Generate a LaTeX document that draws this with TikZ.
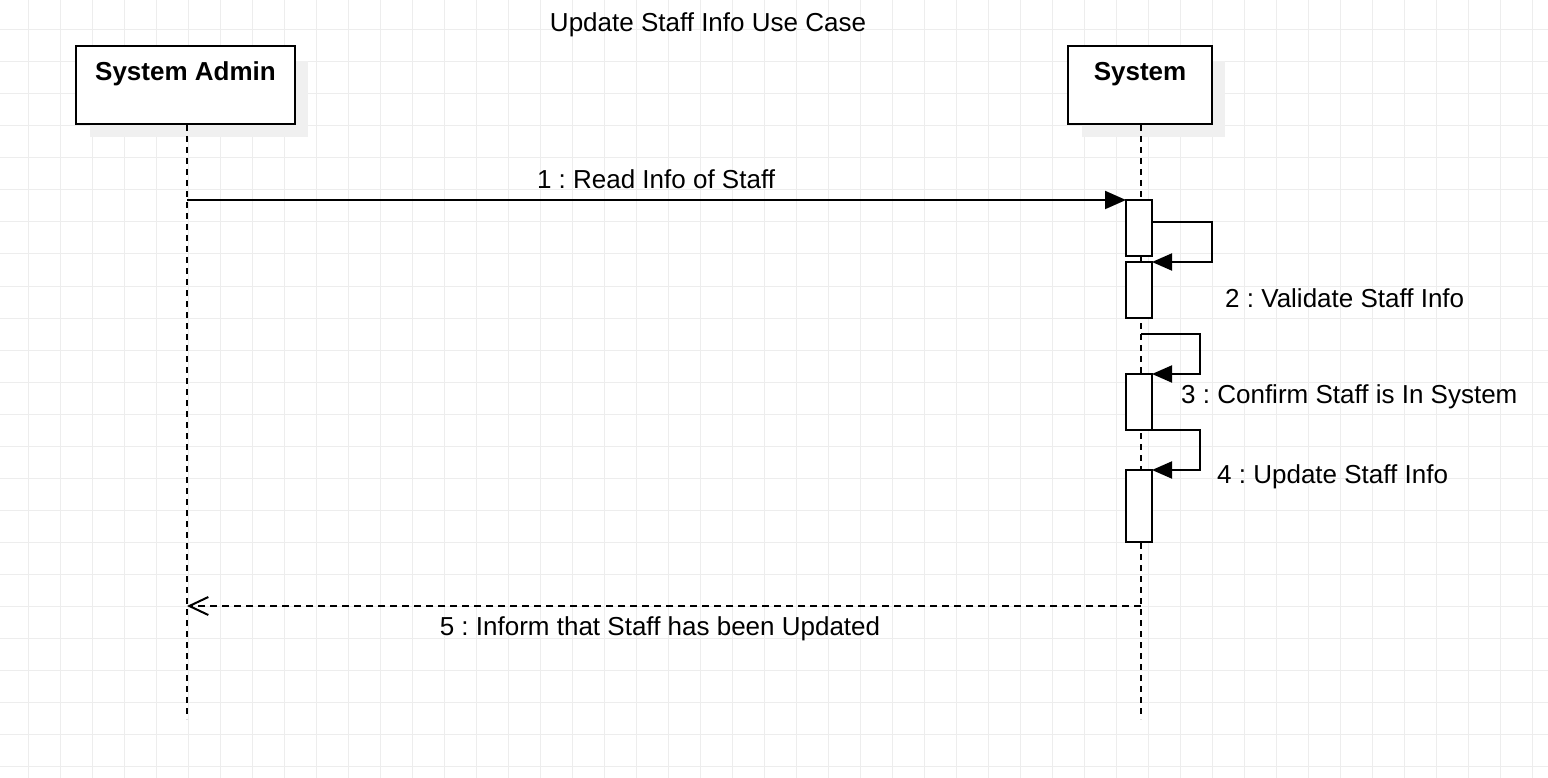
\documentclass[tikz,border=0pt]{standalone}
\usepackage{fontspec}
\setmainfont{Liberation Sans}
\usetikzlibrary{arrows.meta,calc}
\definecolor{gridc}{HTML}{EDEDED}
\definecolor{shadowc}{HTML}{F0F0F0}
\frenchspacing
\tikzset{
  gridline/.style={draw=gridc, line width=1pt},
  actorbox/.style={draw=black, fill=white, line width=2pt, inner sep=0pt, outer sep=0pt},
  actbox/.style={draw=black, fill=white, line width=2pt, inner sep=0pt, outer sep=0pt, minimum width=26pt},
  lifeline/.style={draw=black, line width=2pt, dash pattern=on 6pt off 5pt},
  msg/.style={draw=black, line width=2pt, -{Triangle[length=21pt,width=18pt]}},
  selfmsg/.style={draw=black, line width=2pt, -{Triangle[length=20pt,width=17pt]}},
  retmsg/.style={draw=black, line width=2pt, dash pattern=on 7pt off 5pt, -{Straight Barb[length=19pt,width=18pt,line width=2pt]}},
  txt/.style={font=\fontsize{26}{30}\selectfont, inner sep=0pt},
  btxt/.style={font=\bfseries\fontsize{26}{30}\selectfont, inner sep=0pt},
}
\begin{document}
\begin{tikzpicture}[x=1pt,y=-1pt]
\useasboundingbox (0,0) rectangle (1548,778);
\fill[white] (0,0) rectangle (1548,778);
% grid
\foreach \gx in {28,60,...,1548} \draw[gridline] (\gx,0) -- (\gx,778);
\foreach \gy in {30,62,...,778} \draw[gridline] (0,\gy) -- (1548,\gy);
% title
\node[txt, anchor=base] (title) at (708,32) {Update Staff Info Use Case};
% shadows
\fill[shadowc] (90,61) rectangle (308,137);
\fill[shadowc] (1082,61) rectangle (1225,137);
% actors
\node[actorbox, anchor=north west, minimum width=219pt, minimum height=78pt] (admin) at (76,46) {};
\node[btxt, anchor=base] (adminlbl) at (185.5,81) {System Admin};
\node[actorbox, anchor=north west, minimum width=144pt, minimum height=78pt] (sys) at (1068,46) {};
\node[btxt, anchor=base] (syslbl) at (1140,81) {System};
% lifelines
\coordinate (admintop) at (187,125);
\coordinate (adminbot) at (187,719);
\coordinate (systop) at (1141,125);
\coordinate (sysbot) at (1141,719);
\draw[lifeline] (admintop) -- (adminbot);
\draw[lifeline] (systop) -- (sysbot);
% activations
\node[actbox, anchor=north, minimum height=56pt] (a1) at (1139,200) {};
\node[actbox, anchor=north, minimum height=56pt] (a2) at (1139,262) {};
\node[actbox, anchor=north, minimum height=56pt] (a3) at (1139,374) {};
\node[actbox, anchor=north, minimum height=72pt] (a4) at (1139,470) {};
% message 1
\coordinate (m1s) at (187,200);
\draw[msg] (m1s) -- (a1.north west);
\node[txt, anchor=base] (l1) at (656,189) {1 : Read Info of Staff};
% message 2
\draw[selfmsg] ($(a1.north east)+(0,22)$) -- ++(60,0) |- (a2.north east);
\node[txt, anchor=base west] (l2) at (1225,307) {2 : Validate Staff Info};
% message 3
\coordinate (m3s) at (1141,334);
\draw[selfmsg] (m3s) -- ++(59,0) |- (a3.north east);
\node[txt, anchor=base west] (l3) at (1181,403) {3 : Confirm Staff is In System};
% message 4
\draw[selfmsg] (a3.south east) -- ++(48,0) |- (a4.north east);
\node[txt, anchor=base west] (l4) at (1217,483) {4 : Update Staff Info};
% message 5
\coordinate (m5s) at (1141,606);
\coordinate (m5e) at (187,606);
\draw[retmsg] (m5s) -- (m5e);
\node[txt, anchor=base] (l5) at (660,635) {5 : Inform that Staff has been Updated};
\end{tikzpicture}
\end{document}
